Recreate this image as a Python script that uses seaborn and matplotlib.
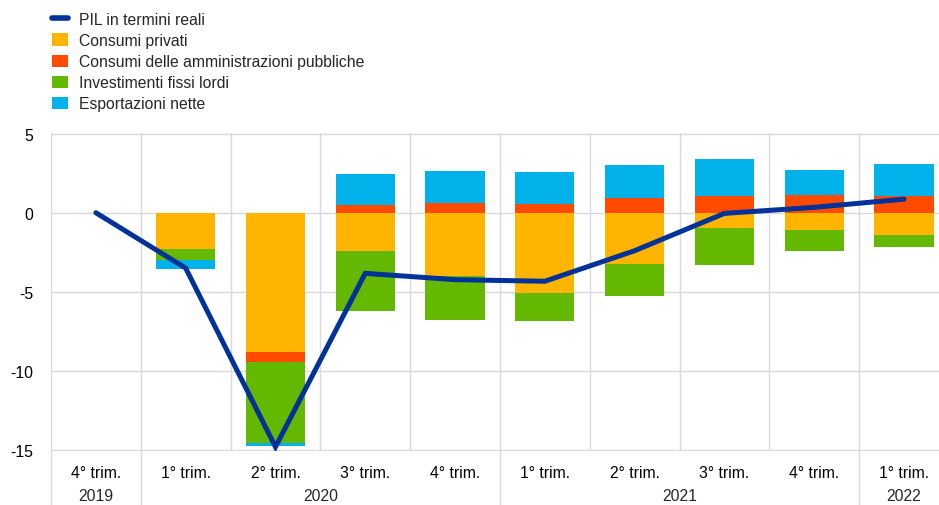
'''
Contributi alla crescita del PIL in termini reali, stacked bars + line
'''
import numpy             as np
import seaborn           as sns
import matplotlib.pyplot as plt
import matplotlib.transforms as mtrans
from matplotlib.patches import Patch
from matplotlib.lines   import Line2D

# ----------------------
quarters  = ['4° trim.', '1° trim.', '2° trim.', '3° trim.', '4° trim.',
             '1° trim.', '2° trim.', '3° trim.', '4° trim.', '1° trim.']
years     = ['2019', '2020', '2021', '2022']
year_pos  = [0, 2.5, 6.5, 9]
year_sep  = [-0.5, 0.5, 4.5, 8.5]

cons_priv = [0.00, -2.29, -8.81, -2.44, -3.97, -5.07, -3.22, -0.95, -1.07, -1.43]
cons_pub  = [0.00,  0.00, -0.63,  0.49,  0.59,  0.55,  0.95,  1.03,  1.10,  1.03]
invest    = [0.00, -0.69, -5.09, -3.74, -2.80, -1.76, -2.02, -2.35, -1.35, -0.73]
export    = [0.00, -0.57, -0.23,  1.95,  2.02,  2.00,  2.08,  2.38,  1.59,  2.06]
gdp       = [0.00, -3.50, -14.80, -3.83, -4.23, -4.33, -2.40, -0.04,  0.34,  0.86]

names  = ['Consumi privati', 'Consumi delle amministrazioni pubbliche',
          'Investimenti fissi lordi', 'Esportazioni nette']
colors = ['#FFB400', '#FF4B00', '#65B800', '#00B1EA']
line_c = '#003299'
grid_c = '#d9d9d9'
fsize  = 11.3
# ----------------------
sns.set_theme(style='white')
plt.rcParams['font.family'] = ['Liberation Sans', 'DejaVu Sans']
plt.rcParams['font.size']   = fsize

fig = plt.figure(figsize=(9.39, 5.06), dpi=100)
ax  = fig.add_axes([51/939, 1 - 451.7/506, 888/939, 317.7/506])

x     = np.arange(len(quarters))
pos_b = np.zeros(len(x))
neg_b = np.zeros(len(x))
for vals, color in zip([cons_priv, cons_pub, invest, export], colors):
    vals = np.array(vals)
    bot  = np.where(vals >= 0, pos_b, neg_b)
    ax.bar(x, vals, bottom=bot, width=0.66, color=color, linewidth=0, zorder=2)
    pos_b += np.where(vals > 0, vals, 0)
    neg_b += np.where(vals < 0, vals, 0)

sns.lineplot(x=x, y=gdp, ax=ax, color=line_c, linewidth=3.6, zorder=3,
             solid_capstyle='round', solid_joinstyle='miter')

ax.set_xlim(-0.5, 9.39)
ax.set_ylim(-15.04, 5.04)
ax.set_yticks([5, 0, -5, -10, -15])
ax.set_yticklabels(['5', '0', '-5', '-10', '-15'])
ax.set_xticks(x)
ax.set_xticklabels(quarters)
ax.set_xticks(np.arange(-0.5, 9.5, 1), minor=True)
ax.tick_params(axis='y', length=0, pad=13, labelsize=fsize, colors='#000000')
ax.tick_params(axis='x', which='both', length=0, pad=10, labelsize=fsize, colors='#000000')
ax.grid(False)
ax.grid(axis='y', which='major', color=grid_c, linewidth=1, zorder=0)
ax.grid(axis='x', which='minor', color=grid_c, linewidth=1, zorder=0)
for sp in ax.spines.values():
    sp.set_visible(False)
ax.set_xlabel('')
ax.set_ylabel('')

trans = mtrans.blended_transform_factory(ax.transData, ax.transAxes)
for xs in year_sep:
    ax.plot([xs, xs], [0, -0.2], transform=trans, color=grid_c, linewidth=1,
            clip_on=False, zorder=0)
for yr, xp in zip(years, year_pos):
    ax.text(xp, -0.142, yr, transform=trans, ha='center', va='center', fontsize=fsize)

handles = [Line2D([0], [0], color=line_c, linewidth=4)]
handles += [Patch(facecolor=c, edgecolor='none') for c in colors]
labels  = ['PIL in termini reali'] + names
fig.legend(handles, labels, loc='upper left', bbox_to_anchor=(52/939, 1 - 13/506),
           frameon=False, fontsize=fsize, handlelength=1.0, handleheight=0.85,
           handletextpad=0.72, labelspacing=0.39, borderaxespad=0, borderpad=0)

fig.savefig('out.png', dpi=100)
